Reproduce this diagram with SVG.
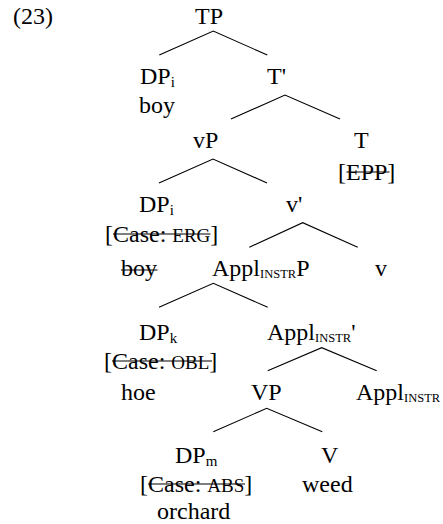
<svg xmlns="http://www.w3.org/2000/svg" width="443" height="524" viewBox="0 0 443 524">
<style>
text{font-family:"Liberation Serif","Times New Roman",serif;font-size:24px;fill:#000}
.sub{font-size:15px}
.sc{font-size:19px}
.scs{font-size:12.5px}
.edge{stroke:#000;stroke-width:1.1;fill:none}
.strike{stroke:#000;stroke-width:1.2}
</style>
<rect width="443" height="524" fill="#fff"/>
<g id="connectors">
<path class="edge" d="M159.3,55 L213.3,31 L267.3,55"/>
<path class="edge" d="M231,119 L285,95 L340,119"/>
<path class="edge" d="M159,183 L213,159 L267,183"/>
<path class="edge" d="M249.3,247.3 L302.7,222.7 L357.7,247.3"/>
<path class="edge" d="M159,307.3 L213.3,283.3 L267.7,307.3"/>
<path class="edge" d="M267.7,370.7 L321.7,347.7 L376.7,370.7"/>
<path class="edge" d="M213.3,431.7 L266.7,408.3 L322.3,431.7"/>
</g>
<g id="label"><text x="13" y="24">(23)</text></g>
<g id="TP"><text x="195" y="24">TP</text></g>
<g id="DPi-top"><text x="140" y="84">DP<tspan class="sub" dy="3">i</tspan></text><text x="139" y="113">boy</text></g>
<g id="Tbar"><text x="267" y="84">T'</text></g>
<g id="vP"><text x="193" y="148">vP</text></g>
<g id="T"><text x="354" y="148">T</text><text x="338" y="180">[EPP]</text><line class="strike" x1="346.5" y1="172" x2="389.5" y2="172"/></g>
<g id="DPi"><text x="139" y="212">DP<tspan class="sub" dy="3">i</tspan></text><text x="105" y="242">[Case: <tspan class="sc">ERG</tspan>]</text><line class="strike" x1="113" y1="234" x2="210.5" y2="234"/><text x="121" y="276">boy</text><line class="strike" x1="121" y1="270" x2="157.5" y2="270"/></g>
<g id="vbar"><text x="286" y="212">v'</text></g>
<g id="ApplP"><text x="212" y="276">Appl<tspan class="scs" dy="2">INSTR</tspan><tspan dy="-2">P</tspan></text></g>
<g id="v"><text x="375" y="276">v</text></g>
<g id="DPk"><text x="139" y="340">DP<tspan class="sub" dy="3">k</tspan></text><text x="104" y="369">[Case: <tspan class="sc">OBL</tspan>]</text><line class="strike" x1="112" y1="361" x2="212" y2="361"/><text x="121" y="400">hoe</text></g>
<g id="Applbar"><text x="267" y="340">Appl<tspan class="scs" dy="2">INSTR</tspan><tspan dy="-2">'</tspan></text></g>
<g id="VP"><text x="251" y="400">VP</text></g>
<g id="Appl"><text x="356" y="400">Appl<tspan class="scs" dy="2">INSTR</tspan></text></g>
<g id="DPm"><text x="175" y="463">DP<tspan class="sub" dy="3">m</tspan></text><text x="140" y="492">[Case: <tspan class="sc">ABS</tspan>]</text><line class="strike" x1="148" y1="484" x2="245" y2="484"/><text x="157" y="519">orchard</text></g>
<g id="V"><text x="321" y="463">V</text><text x="302" y="492">weed</text></g>
</svg>
